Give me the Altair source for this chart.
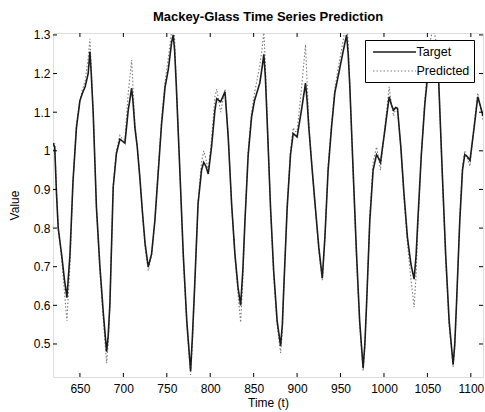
import altair as alt
import pandas as pd

time = [619, 621, 623, 625, 629, 632, 635, 638.5, 642, 646, 650, 653, 656, 659.5, 661.5, 663, 665.3, 669, 673, 677,
        680.7, 682.5, 684.5, 688.3, 692, 696, 699, 701.8, 705.6, 709.5, 711, 713.3, 716, 719, 722, 725, 728.6, 732.5,
        736.3, 740, 744, 748, 751.7, 755.5, 757.4, 759, 761, 765, 769, 773, 777.4, 779.5, 782, 786, 790, 792.5, 795,
        797.7, 801.5, 805.4, 807.5, 812, 817, 820.7, 824.6, 828.4, 832, 835, 837.5, 840, 843.7, 847.6, 851, 857, 860,
        861.7, 863.5, 865.5, 869.4, 873, 877, 881, 883, 884.7, 888.6, 892.4, 895.5, 898, 900, 905, 909.7, 911.5, 913.5,
        917.4, 921, 925, 929, 932, 935.7, 939.6, 943.4, 947, 951, 954.9, 957, 958.8, 960.7, 964.5, 968.4, 972, 976,
        978, 980, 983.7, 987.5, 991.4, 994, 996, 1001, 1006, 1008.5, 1011, 1013.5, 1015.6, 1019.4, 1023, 1027, 1031,
        1034.7, 1037, 1039, 1043, 1047, 1049.7, 1053, 1056.5, 1059.5, 1063, 1067, 1071, 1075, 1079.6, 1081.5, 1083.5,
        1087.3, 1090.4, 1093, 1096, 1099, 1103.4, 1108, 1110.5, 1114]

target = [1.02, 1.01, 0.89, 0.80, 0.73, 0.67, 0.62, 0.73, 0.92, 1.06, 1.13, 1.15, 1.166, 1.20, 1.257, 1.20, 1.097,
          0.854, 0.70, 0.578, 0.48, 0.52, 0.604, 0.906, 0.993, 1.03, 1.025, 1.02, 1.105, 1.162, 1.13, 1.06, 1.01,
          0.93, 0.84, 0.76, 0.70, 0.733, 0.82, 0.94, 1.07, 1.165, 1.21, 1.28, 1.30, 1.26, 1.166, 0.95, 0.73, 0.56,
          0.43, 0.52, 0.646, 0.863, 0.95, 0.97, 0.96, 0.94, 1.01, 1.105, 1.135, 1.127, 1.153, 1.036, 0.863, 0.733,
          0.646, 0.60, 0.69, 0.82, 0.99, 1.088, 1.13, 1.175, 1.22, 1.25, 1.19, 1.08, 0.854, 0.69, 0.56, 0.495, 0.55,
          0.646, 0.854, 0.99, 1.045, 1.04, 1.036, 1.105, 1.175, 1.13, 1.06, 0.95, 0.854, 0.75, 0.67, 0.776, 0.95,
          1.06, 1.15, 1.19, 1.235, 1.278, 1.30, 1.25, 1.166, 0.95, 0.733, 0.56, 0.438, 0.50, 0.604, 0.82, 0.95, 0.99,
          0.98, 0.97, 1.053, 1.14, 1.12, 1.105, 1.112, 1.11, 1.01, 0.89, 0.776, 0.707, 0.668, 0.73, 0.82, 0.99, 1.12,
          1.18, 1.24, 1.28, 1.25, 1.18, 0.95, 0.733, 0.56, 0.447, 0.50, 0.604, 0.82, 0.95, 0.99, 0.985, 0.975, 1.053,
          1.14, 1.12, 1.09]

predicted = [1.00, 1.02, 0.90, 0.80, 0.72, 0.64, 0.56, 0.70, 0.92, 1.07, 1.13, 1.16, 1.18, 1.24, 1.29, 1.22, 1.10,
             0.85, 0.69, 0.56, 0.45, 0.50, 0.60, 0.91, 1.00, 1.04, 1.03, 1.03, 1.15, 1.235, 1.17, 1.07, 1.01, 0.93,
             0.84, 0.75, 0.69, 0.73, 0.82, 0.95, 1.08, 1.18, 1.24, 1.31, 1.34, 1.29, 1.17, 0.95, 0.72, 0.55, 0.42,
             0.50, 0.64, 0.87, 0.97, 1.00, 0.98, 0.95, 1.03, 1.14, 1.16, 1.10, 1.16, 1.04, 0.86, 0.73, 0.63, 0.556,
             0.66, 0.82, 1.00, 1.10, 1.15, 1.22, 1.27, 1.31, 1.22, 1.09, 0.85, 0.68, 0.55, 0.477, 0.53, 0.64, 0.86,
             1.00, 1.06, 1.05, 1.05, 1.16, 1.275, 1.18, 1.07, 0.95, 0.85, 0.74, 0.665, 0.77, 0.96, 1.07, 1.16, 1.21,
             1.26, 1.31, 1.34, 1.28, 1.17, 0.94, 0.72, 0.55, 0.43, 0.49, 0.60, 0.83, 0.97, 1.01, 0.98, 0.95, 1.06,
             1.166, 1.12, 1.09, 1.11, 1.10, 1.01, 0.88, 0.76, 0.67, 0.595, 0.68, 0.80, 0.99, 1.13, 1.20, 1.28, 1.32,
             1.29, 1.18, 0.94, 0.72, 0.55, 0.44, 0.49, 0.60, 0.83, 0.96, 1.00, 0.98, 0.96, 1.06, 1.15, 1.12, 1.08]

series_names = ["Target", "Predicted"]
x_ticks = [650, 700, 750, 800, 850, 900, 950, 1000, 1050, 1100]
y_ticks = [0.5, 0.6, 0.7, 0.8, 0.9, 1.0, 1.1, 1.2, 1.3]

df_t = pd.DataFrame({"t": time, "v": target, "series": "Target"})
df_p = pd.DataFrame({"t": time, "v": predicted, "series": "Predicted"})
df_xt = pd.DataFrame({"t": x_ticks})
df_yt = pd.DataFrame({"v": y_ticks})

W, H = 430, 344
TK = 4
FONT = "Liberation Sans"
xs = alt.Scale(domain=[619, 1114], nice=False, zero=False)
ys = alt.Scale(domain=[0.4145, 1.305], nice=False, zero=False)

leg = alt.Legend(
    title=None, orient="none", legendX=312, legendY=7, direction="vertical",
    symbolType="M-3.07,0H3.07", symbolSize=196, symbolStrokeWidth=1.3, symbolOffset=17.5,
    symbolFillColor="transparent",
    labelFont=FONT, labelFontSize=12.5, labelColor="black", labelOffset=14,
    strokeColor="black", fillColor="white", padding=4, rowPadding=4,
)
color = alt.Color("series:N", scale=alt.Scale(domain=series_names, range=["#1c1c1c", "#7a7a7a"]), legend=leg)
dash = alt.StrokeDash("series:N", scale=alt.Scale(domain=series_names, range=[[1, 0], [1.5, 2]]), legend=leg)
swidth = alt.StrokeWidth("series:N", scale=alt.Scale(domain=series_names, range=[1.6, 1.1]), legend=None)

common = dict(grid=False, domain=False, ticks=False, labelFont=FONT, labelFontSize=12, labelColor="black",
              titleFont=FONT, titleFontSize=12, titleFontWeight="normal", titleColor="black")
x_axis = alt.Axis(values=x_ticks, format="d", labelPadding=6, title="Time (t)", titlePadding=3, **common)
y_axis = alt.Axis(values=y_ticks, format="~g", labelPadding=3, title="Value", titlePadding=12, **common)

X = alt.X("t:Q", scale=xs, axis=x_axis)
Y = alt.Y("v:Q", scale=ys, axis=y_axis)

pred = alt.Chart(df_p).mark_line(clip=True).encode(x=X, y=Y, color=color, strokeDash=dash, strokeWidth=swidth)
targ = alt.Chart(df_t).mark_line(clip=True).encode(x=X, y=Y, color=color, strokeDash=dash, strokeWidth=swidth)

# inward-pointing tick marks on all four sides of the box
rule_style = dict(stroke="black", strokeWidth=1)
xt_bottom = alt.Chart(df_xt).mark_rule(**rule_style).encode(
    x=X, y=alt.value(H), y2=alt.value(H - TK))
xt_top = alt.Chart(df_xt).mark_rule(**rule_style).encode(
    x=X, y=alt.value(0), y2=alt.value(TK))
yt_left = alt.Chart(df_yt).mark_rule(**rule_style).encode(
    y=Y, x=alt.value(0), x2=alt.value(TK))
yt_right = alt.Chart(df_yt).mark_rule(**rule_style).encode(
    y=Y, x=alt.value(W), x2=alt.value(W - TK))

chart = alt.layer(pred, targ, xt_bottom, xt_top, yt_left, yt_right).properties(
    width=W, height=H,
    title=alt.Title("Mackey-Glass Time Series Prediction", font=FONT, fontSize=13, fontWeight="bold",
                    color="black", anchor="middle", offset=5),
    autosize=alt.AutoSizeParams(type="none"),
    padding={"left": 53, "top": 33, "right": 2, "bottom": 35},
).configure_view(stroke="black", strokeWidth=1).configure(background="white")

chart.save("out.html", embed_options={"renderer": "svg", "actions": False})
